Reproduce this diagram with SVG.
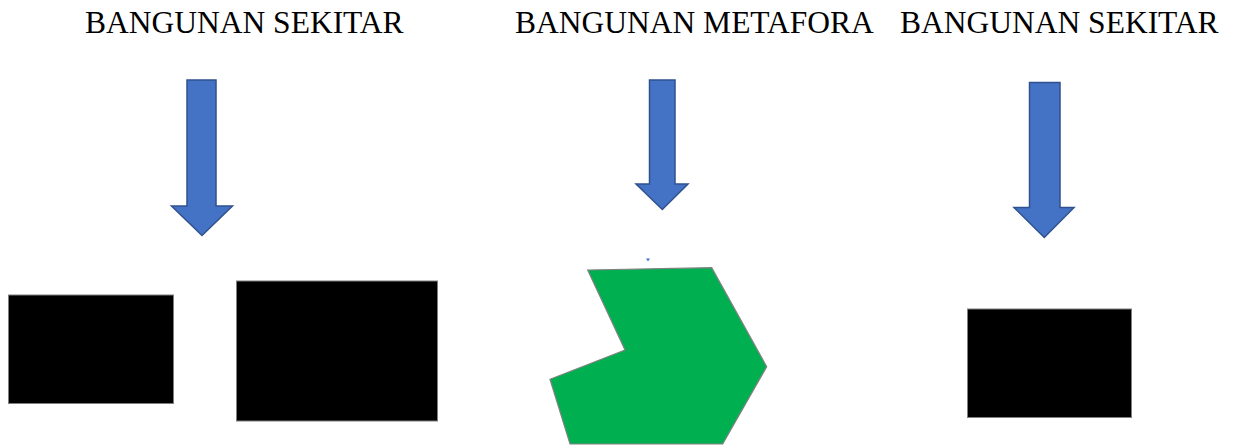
<svg xmlns="http://www.w3.org/2000/svg" width="1233" height="446" viewBox="0 0 1233 446">
  <style>
    .label { font-family: "Liberation Serif", "Times New Roman", serif; font-size: 31.5px; fill: #000; }
    .arrow { fill: #4472C4; stroke: #2F528F; stroke-width: 1.5; stroke-linejoin: miter; }
    .block { fill: #000; stroke: #7f7f7f; stroke-width: 1; }
    .meta { fill: #00B050; stroke: #808080; stroke-width: 1.2; stroke-linejoin: miter; }
  </style>
  <rect width="1233" height="446" fill="#fff"/>

  <g id="label-left">
    <text class="label" x="85" y="33">BANGUNAN SEKITAR</text>
  </g>
  <g id="label-middle">
    <text class="label" x="515" y="33">BANGUNAN METAFORA</text>
  </g>
  <g id="label-right">
    <text class="label" x="900" y="33">BANGUNAN SEKITAR</text>
  </g>

  <g id="connectors">
    <polygon class="arrow" points="187,80 216,80 216,206 232.5,206 202,235.5 171.5,206 187,206"/>
    <polygon class="arrow" points="649.5,80 675,80 675,184 688,184 662.3,209.5 636,184 649.5,184"/>
    <polygon class="arrow" points="1029.5,82.5 1060,82.5 1060,207.5 1074,207.5 1044.3,237.5 1014,207.5 1029.5,207.5"/>
  </g>

  <g id="building-left-1">
    <rect class="block" x="8.5" y="295" width="165" height="108.5"/>
  </g>
  <g id="building-left-2">
    <rect class="block" x="236.5" y="281" width="201" height="140"/>
  </g>

  <g id="building-metaphor">
    <polygon points="646,258.5 650,258.5 648,261.5" fill="#4472C4"/>
    <polygon class="meta" points="587.7,270 711.7,267.7 766.7,366.7 722.7,444 570,444 550,379.3 625,350"/>
  </g>

  <g id="building-right">
    <rect class="block" x="967.5" y="309" width="164" height="108.5"/>
  </g>
</svg>
